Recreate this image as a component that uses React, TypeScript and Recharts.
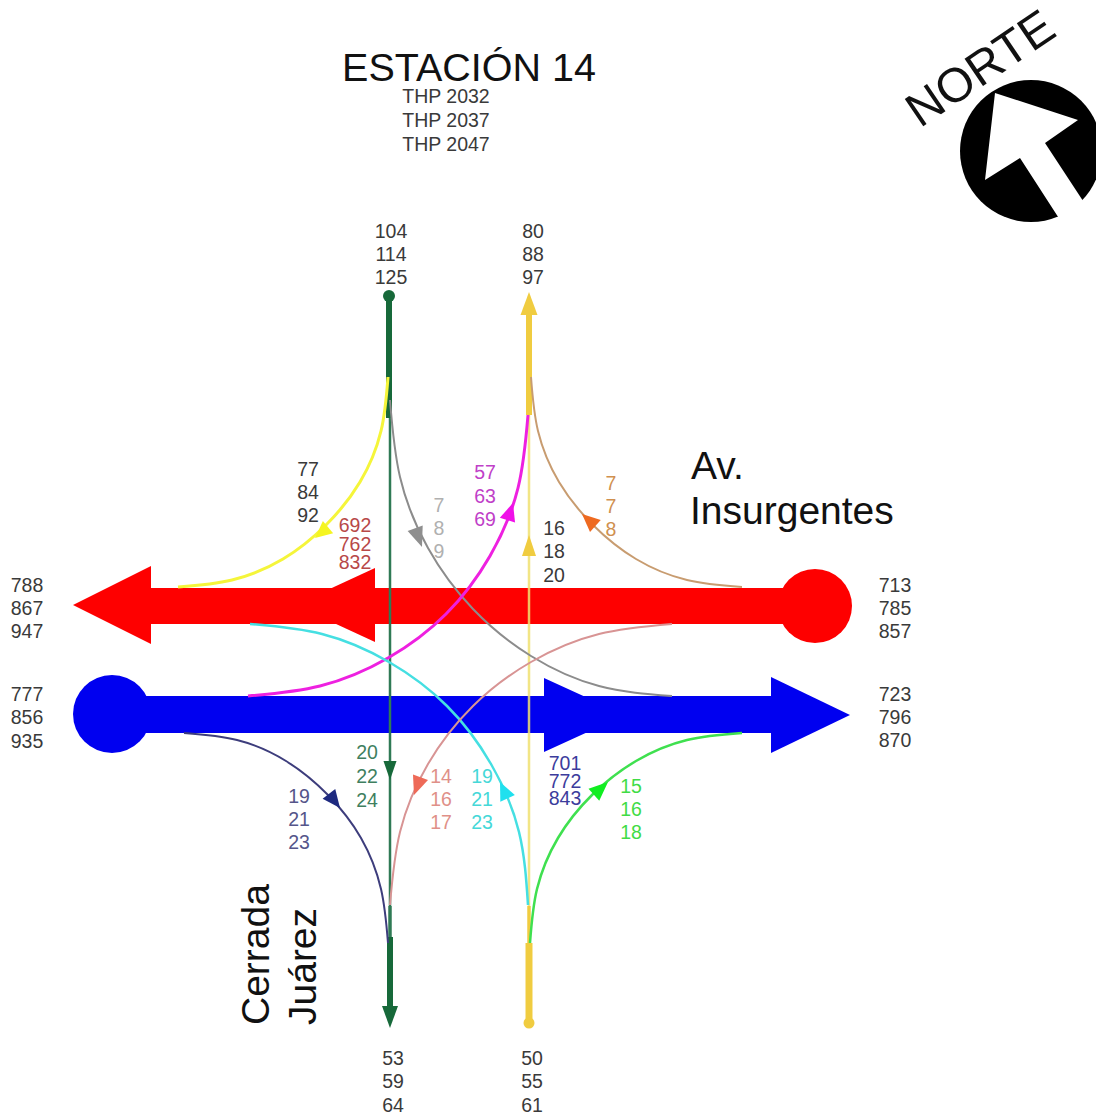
import React from 'react';
import { ComposedChart, Line, Scatter, XAxis, YAxis } from 'recharts';

type P = { x: number; y: number };
const pts = (a: number[][]): P[] => a.map(([x, y]) => ({ x, y }));

// ---- main road flows
const redBar = pts([[150, 606], [800, 606]]);
const blueBar = pts([[130, 714.5], [775, 714.5]]);

// ---- vertical road flows
const greenTop = pts([[389, 296], [389, 418]]);
const greenMid = pts([[390, 418], [390, 906]]);
const greenLow = pts([[390, 906], [390, 937]]);
const greenEnd = pts([[390, 937], [390, 1010]]);
const yellowTop = pts([[529, 310], [529, 415]]);
const yellowMid = pts([[529, 415], [529, 906]]);
const yellowLow = pts([[529, 906], [529, 943]]);
const yellowEnd = pts([[529, 943], [529, 1023]]);

// ---- turning movements
const yellowCurve = pts([[388, 377], [381, 431], [360, 482], [326, 525], [283, 559], [232, 580], [178, 587]]);
const grayCurve = pts([[390, 400], [400, 477], [428, 548], [473, 609], [531, 656], [599, 686], [672, 696]]);
const magentaCurve = pts([[528, 415], [518, 488], [490, 556], [446, 614], [388, 658], [320, 686], [248, 696]]);
const brownCurve = pts([[531, 377], [538, 431], [559, 482], [593, 525], [636, 559], [687, 580], [742, 587]]);
const cyanCurve = pts([[528, 905], [519, 832], [491, 764], [447, 706], [389, 662], [322, 634], [250, 624]]);
const salmonCurve = pts([[390, 905], [400, 832], [428, 764], [473, 706], [531, 662], [599, 634], [672, 624]]);
const navyCurve = pts([[388, 943], [381, 889], [361, 838], [328, 795], [286, 761], [237, 740], [184, 733]]);
const greenCurve = pts([[530, 943], [537, 889], [558, 838], [592, 795], [636, 761], [687, 740], [742, 733]]);

// ---- arrow heads: tip position and direction
const arrowTips = [
  { x: 73, y: 605, angle: 180, kind: 'redA' },
  { x: 295, y: 605, angle: 180, kind: 'redB' },
  { x: 850, y: 715, angle: 0, kind: 'blueA' },
  { x: 625, y: 715, angle: 0, kind: 'blueB' },
  { x: 390, y: 1028, angle: 90, kind: 'dkGreen' },
  { x: 529, y: 292, angle: -90, kind: 'gold' },
  { x: 390, y: 780, angle: 90, kind: 'dkGreenS' },
  { x: 529, y: 535, angle: -90, kind: 'goldS' },
  { x: 315, y: 538, angle: 140, kind: 'yellow' },
  { x: 422, y: 547, angle: 70, kind: 'gray' },
  { x: 513, y: 503, angle: -72, kind: 'magenta' },
  { x: 582, y: 514, angle: 222, kind: 'brown' },
  { x: 414, y: 795, angle: 110, kind: 'salmon' },
  { x: 500, y: 782, angle: 245, kind: 'cyan' },
  { x: 340, y: 808, angle: 52, kind: 'navy' },
  { x: 608, y: 782, angle: -42, kind: 'green' },
];
const headStyle: Record<string, { len: number; hw: number; fill: string }> = {
  redA: { len: 78, hw: 39, fill: '#fe0000' },
  redB: { len: 80, hw: 37, fill: '#fe0000' },
  blueA: { len: 79, hw: 38, fill: '#0000f0' },
  blueB: { len: 81, hw: 37, fill: '#0000f0' },
  dkGreen: { len: 22, hw: 8, fill: '#17693a' },
  gold: { len: 23, hw: 8.5, fill: '#f0cc40' },
  dkGreenS: { len: 19, hw: 6.5, fill: '#17693a' },
  goldS: { len: 21, hw: 7, fill: '#f0cc40' },
  yellow: { len: 17, hw: 8, fill: '#f5f520' },
  gray: { len: 20, hw: 8, fill: '#8f8f8f' },
  magenta: { len: 18, hw: 8, fill: '#f010e8' },
  brown: { len: 18, hw: 8, fill: '#ee6a20' },
  salmon: { len: 19, hw: 8, fill: '#ee6a58' },
  cyan: { len: 18, hw: 8, fill: '#20e0ee' },
  navy: { len: 18, hw: 8, fill: '#1e2a80' },
  green: { len: 19, hw: 8, fill: '#10ee20' },
};

// ---- end dots
const endDots = [
  { x: 815, y: 606, kind: 'red' },
  { x: 112, y: 714, kind: 'blue' },
  { x: 389, y: 296, kind: 'dkGreen' },
  { x: 529, y: 1023, kind: 'gold' },
];
const dotStyle: Record<string, { r: number; fill: string }> = {
  red: { r: 37, fill: '#fe0000' },
  blue: { r: 39, fill: '#0000f0' },
  dkGreen: { r: 6, fill: '#17693a' },
  gold: { r: 5.5, fill: '#f0cc40' },
};

// ---- movement volumes
const DARK = '#3a3a3a';
const volumes: { x: number; ys: number[]; vals: string[]; color: string }[] = [
  { x: 391, ys: [231, 254, 277], vals: ['104', '114', '125'], color: DARK },
  { x: 533, ys: [231, 254, 277], vals: ['80', '88', '97'], color: DARK },
  { x: 308, ys: [469, 492, 515], vals: ['77', '84', '92'], color: DARK },
  { x: 355, ys: [525, 544, 562], vals: ['692', '762', '832'], color: '#b84848' },
  { x: 439, ys: [505, 528, 551], vals: ['7', '8', '9'], color: '#b0b0b0' },
  { x: 485, ys: [472, 496, 519], vals: ['57', '63', '69'], color: '#c040c8' },
  { x: 554, ys: [528, 551, 575], vals: ['16', '18', '20'], color: DARK },
  { x: 611, ys: [483, 506, 529], vals: ['7', '7', '8'], color: '#d0904f' },
  { x: 27, ys: [585, 608, 631], vals: ['788', '867', '947'], color: DARK },
  { x: 27, ys: [694, 717, 741], vals: ['777', '856', '935'], color: DARK },
  { x: 895, ys: [585, 608, 631], vals: ['713', '785', '857'], color: DARK },
  { x: 895, ys: [694, 717, 740], vals: ['723', '796', '870'], color: DARK },
  { x: 367, ys: [752, 776, 800], vals: ['20', '22', '24'], color: '#3f7f5f' },
  { x: 441, ys: [776, 799, 822], vals: ['14', '16', '17'], color: '#e09088' },
  { x: 482, ys: [776, 799, 822], vals: ['19', '21', '23'], color: '#45d8d8' },
  { x: 565, ys: [763, 781, 798], vals: ['701', '772', '843'], color: '#3c3c9c' },
  { x: 631, ys: [786, 809, 832], vals: ['15', '16', '18'], color: '#3fdc45' },
  { x: 299, ys: [796, 819, 842], vals: ['19', '21', '23'], color: '#55558a' },
  { x: 393, ys: [1058, 1081, 1105], vals: ['53', '59', '64'], color: DARK },
  { x: 532, ys: [1058, 1081, 1105], vals: ['50', '55', '61'], color: DARK },
  { x: 446, ys: [96, 120, 144], vals: ['THP 2032', 'THP 2037', 'THP 2047'], color: DARK },
];
const volumePoints = volumes.flatMap((g) =>
  g.vals.map((text, i) => ({ x: g.x, y: g.ys[i], text, color: g.color }))
);

// ---- titles
const titles = [
  { x: 469, y: 67, text: 'ESTACIÓN 14', size: 39.5, rot: 0, anchor: 'middle' },
  { x: 691, y: 465, text: 'Av.', size: 39, rot: 0, anchor: 'start' },
  { x: 690, y: 510, text: 'Insurgentes', size: 39, rot: 0, anchor: 'start' },
  { x: 255, y: 1025, text: 'Cerrada', size: 39, rot: -90, anchor: 'start' },
  { x: 302, y: 1025, text: 'Juárez', size: 39, rot: -90, anchor: 'start' },
  { x: 980, y: 68, text: 'NORTE', size: 48, rot: -34, anchor: 'middle' },
];
const compass = [{ x: 1031, y: 151 }];

const FONT = '"Liberation Sans", Arial, sans-serif';

const VolumeText = (p: any) => (
  <text x={p.cx} y={p.cy} textAnchor="middle" dominantBaseline="central" fontFamily={FONT} fontSize={19.5} fill={p.payload.color}>
    {p.payload.text}
  </text>
);
const TitleText = (p: any) => (
  <text
    x={p.cx}
    y={p.cy}
    textAnchor={p.payload.anchor}
    dominantBaseline="central"
    fontFamily={FONT}
    fontSize={p.payload.size}
    fill="#111"
    transform={`rotate(${p.payload.rot} ${p.cx} ${p.cy})`}
  >
    {p.payload.text}
  </text>
);
const Head = (p: any) => {
  const s = headStyle[p.payload.kind];
  return (
    <polygon
      points={`0,0 ${-s.len},${-s.hw} ${-s.len},${s.hw}`}
      fill={s.fill}
      transform={`translate(${p.cx} ${p.cy}) rotate(${p.payload.angle})`}
    />
  );
};
const EndDot = (p: any) => {
  const s = dotStyle[p.payload.kind];
  return <circle cx={p.cx} cy={p.cy} r={s.r} fill={s.fill} />;
};
const Compass = (p: any) => (
  <g transform={`translate(${p.cx} ${p.cy})`}>
    <circle r={71} fill="#000" />
    <polygon points="-36,-58 47,-31 14,-8 56,56 31,72 -11,7 -46,29" fill="#fff" />
  </g>
);

const lines: { data: P[]; stroke: string; width: number; curve?: boolean; op?: number }[] = [
  { data: redBar, stroke: '#fe0000', width: 36 },
  { data: blueBar, stroke: '#0000f0', width: 37 },
];
const roads: typeof lines = [
  { data: greenTop, stroke: '#17693a', width: 6 },
  { data: greenMid, stroke: '#2f7a55', width: 2.5 },
  { data: greenLow, stroke: '#2f7a55', width: 3.5 },
  { data: greenEnd, stroke: '#17693a', width: 6 },
  { data: yellowTop, stroke: '#f0cc40', width: 6 },
  { data: yellowMid, stroke: '#f0e070', width: 2.5, op: 0.85 },
  { data: yellowLow, stroke: '#f0cc40', width: 3.5 },
  { data: yellowEnd, stroke: '#f0cc40', width: 7 },
];
const curves: typeof lines = [
  { data: yellowCurve, stroke: '#f5f53a', width: 3, curve: true },
  { data: grayCurve, stroke: '#8c8c8c', width: 2, curve: true },
  { data: magentaCurve, stroke: '#ee20e0', width: 3, curve: true },
  { data: brownCurve, stroke: '#c89c70', width: 2, curve: true },
  { data: cyanCurve, stroke: '#45dfe2', width: 2.5, curve: true },
  { data: salmonCurve, stroke: '#d89494', width: 2, curve: true },
  { data: navyCurve, stroke: '#3d3d7c', width: 2, curve: true },
  { data: greenCurve, stroke: '#3fe04f', width: 2.5, curve: true },
];

const renderLine = (l: (typeof lines)[number], i: number, pre: string) => (
  <Line
    key={pre + i}
    data={l.data}
    dataKey="y"
    type={l.curve ? 'natural' : 'linear'}
    stroke={l.stroke}
    strokeWidth={l.width}
    strokeOpacity={l.op ?? 1}
    dot={false}
    activeDot={false}
    legendType="none"
    isAnimationActive={false}
  />
);

export default function App() {
  return (
    <div style={{ position: 'absolute', left: 0, top: 0, width: 1096, height: 1114, background: '#fff', overflow: 'hidden' }}>
      <ComposedChart width={1096} height={1114} margin={{ top: 0, right: 0, bottom: 0, left: 0 }}>
        <XAxis type="number" dataKey="x" domain={[0, 1096]} hide />
        <YAxis type="number" dataKey="y" domain={[0, 1114]} reversed hide />
        {lines.map((l, i) => renderLine(l, i, 'bar'))}
        <Scatter data={arrowTips} shape={Head} isAnimationActive={false} />
        <Scatter data={endDots} shape={EndDot} isAnimationActive={false} />
        {roads.map((l, i) => renderLine(l, i, 'road'))}
        {curves.map((l, i) => renderLine(l, i, 'curve'))}
        <Scatter data={compass} shape={Compass} isAnimationActive={false} />
        <Scatter data={volumePoints} shape={VolumeText} isAnimationActive={false} />
        <Scatter data={titles} shape={TitleText} isAnimationActive={false} />
      </ComposedChart>
    </div>
  );
}
